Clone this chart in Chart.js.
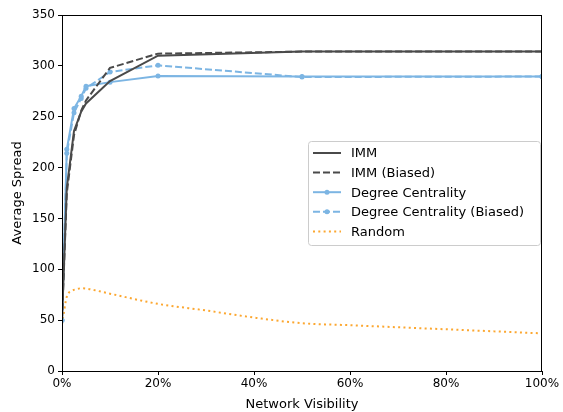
<!DOCTYPE html>
<html>
<head>
<meta charset="utf-8">
<script src="https://cdn.jsdelivr.net/npm/chart.js@4/dist/chart.umd.min.js"></script>
<style>
  html, body { margin: 0; padding: 0; background: #fff; }
  #wrap { width: 563px; height: 412px; }
</style>
</head>
<body>
<div id="wrap"><canvas id="spreadChart" width="563" height="412"></canvas></div>
<script>
// visibility (%) where each method was evaluated
const visibility = [0, 1, 2.5, 4, 5, 10, 20, 50, 100];
const immSpread = [50, 180, 236, 255, 263, 285, 310, 314, 314];
const immBiasedSpread = [50, 175, 232, 256, 266, 298, 312, 314, 314];
const degreeSpread = [50, 218, 258, 270, 280, 284, 290, 289.5, 289.5];
const degreeBiasedSpread = [50, 214, 254, 268, 278, 294, 300.5, 289, 289.5];

// random baseline was sampled more finely
const randomVisibility = [0, 1, 2, 3, 4, 5, 10, 20, 30, 40, 50, 60, 70, 80, 90, 100];
const randomSpread = [46, 73, 78.5, 80.5, 81.3, 81, 76, 66, 59.5, 52.5, 47, 45, 43, 41, 39, 37];

const yTicks = [0, 50, 100, 150, 200, 250, 300, 350];
const xTicks = [0, 20, 40, 60, 80, 100];

const toPoints = (xs, ys) => xs.map((x, i) => ({ x: x, y: ys[i] }));

const DARK = "#4a4a4a";
const BLUE = "#7cb5e3";
const ORANGE = "#fca730";
const FONT = "DejaVu Sans";

// frame around plot + legend box inside the plot
const framePlugin = {
  id: "frame",
  afterDraw(chart) {
    const { ctx, chartArea: a } = chart;
    ctx.save();
    ctx.strokeStyle = "#000";
    ctx.lineWidth = 1;
    ctx.strokeRect(a.left + 0.5, a.top + 0.5, a.right - a.left - 1, a.bottom - a.top);

    // legend
    const bx = 308.5, by = 141.5, bw = 232, bh = 104;
    ctx.fillStyle = "rgba(255,255,255,0.8)";
    ctx.strokeStyle = "#cccccc";
    ctx.beginPath();
    ctx.roundRect(bx, by, bw, bh, 3);
    ctx.fill();
    ctx.stroke();

    ctx.font = "13px '" + FONT + "'";
    ctx.textBaseline = "middle";
    chart.data.datasets.forEach((ds, i) => {
      const y = 153 + i * 19.6;
      ctx.strokeStyle = ds.borderColor;
      ctx.lineWidth = ds.borderWidth;
      ctx.setLineDash(ds.borderDash || []);
      ctx.beginPath();
      ctx.moveTo(313, y);
      ctx.lineTo(341, y);
      ctx.stroke();
      ctx.setLineDash([]);
      if (ds.pointRadius > 0) {
        ctx.fillStyle = ds.borderColor;
        ctx.beginPath();
        ctx.arc(327, y, ds.pointRadius, 0, Math.PI * 2);
        ctx.fill();
      }
      ctx.fillStyle = "#000";
      ctx.fillText(ds.label, 351, y + 1);
    });
    ctx.restore();
  },
};

const ctx = document.getElementById("spreadChart").getContext("2d");
const spreadChart = new Chart(ctx, {
  type: "line",
  data: {
    datasets: [
      {
        label: "IMM",
        data: toPoints(visibility, immSpread),
        borderColor: DARK,
        borderWidth: 2,
        pointRadius: 0,
      },
      {
        label: "IMM (Biased)",
        data: toPoints(visibility, immBiasedSpread),
        borderColor: DARK,
        borderWidth: 2,
        borderDash: [7, 3],
        pointRadius: 0,
      },
      {
        label: "Degree Centrality",
        data: toPoints(visibility, degreeSpread),
        borderColor: BLUE,
        backgroundColor: BLUE,
        borderWidth: 2,
        pointRadius: 2.5,
        pointBorderWidth: 0,
      },
      {
        label: "Degree Centrality (Biased)",
        data: toPoints(visibility, degreeBiasedSpread),
        borderColor: BLUE,
        backgroundColor: BLUE,
        borderWidth: 2,
        borderDash: [7, 3],
        pointRadius: 2.5,
        pointBorderWidth: 0,
      },
      {
        label: "Random",
        data: toPoints(randomVisibility, randomSpread),
        borderColor: ORANGE,
        borderWidth: 2,
        borderDash: [2, 3.3],
        pointRadius: 0,
        cubicInterpolationMode: "monotone",
      },
    ],
  },
  options: {
    responsive: false,
    animation: false,
    layout: { padding: { top: 15, right: 21, left: 0, bottom: 0 } },
    plugins: {
      legend: { display: false },
      tooltip: { enabled: false },
    },
    scales: {
      x: {
        type: "linear",
        min: 0,
        max: 100,
        afterBuildTicks(scale) {
          scale.ticks = xTicks.map((v) => ({ value: v }));
        },
        afterFit(scale) {
          scale.height = 41;
        },
        ticks: {
          color: "#000",
          font: { family: FONT, size: 12 },
          padding: 2,
          maxRotation: 0,
          callback: (v) => v + "%",
        },
        grid: { drawOnChartArea: false, drawTicks: true, tickLength: 4, color: "#000" },
        border: { display: true, color: "#000" },
        title: {
          display: true,
          text: "Network Visibility",
          color: "#000",
          font: { family: FONT, size: 13 },
          padding: { top: 1, bottom: 0 },
        },
      },
      y: {
        min: 0,
        max: 350,
        afterBuildTicks(scale) {
          scale.ticks = yTicks.map((v) => ({ value: v }));
        },
        afterFit(scale) {
          scale.width = 62;
        },
        ticks: {
          color: "#000",
          font: { family: FONT, size: 12 },
          padding: 3,
        },
        grid: { drawOnChartArea: false, drawTicks: true, tickLength: 4, color: "#000" },
        border: { display: true, color: "#000" },
        title: {
          display: true,
          text: "Average Spread",
          color: "#000",
          font: { family: FONT, size: 13 },
          padding: { top: 10, bottom: 4 },
        },
      },
    },
  },
  plugins: [framePlugin],
});
</script>
</body>
</html>
